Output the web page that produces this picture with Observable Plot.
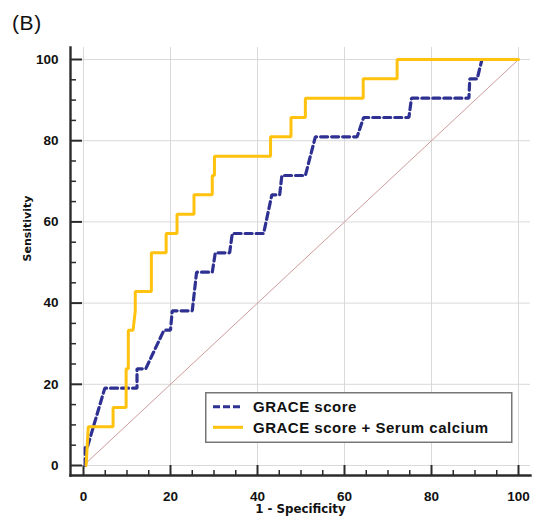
<!DOCTYPE html>
<html><head><meta charset="utf-8">
<script src="https://cdn.jsdelivr.net/npm/d3@7"></script>
<script src="https://cdn.jsdelivr.net/npm/@observablehq/plot@0.6"></script>
<style>
body{margin:0;background:#fff;}
#wrap{position:relative;width:533px;height:520px;background:#fff;}
#tag{height:40px;position:relative;font-family:"Liberation Sans",Arial,sans-serif;font-size:21px;color:#111;}
#tag span{position:absolute;left:12px;top:12px;line-height:21px;letter-spacing:0.6px;}
#legend{position:absolute;left:205px;top:392px;}
</style></head><body>
<div id="wrap"><div id="tag"><span>(B)</span></div><div id="chart"></div><div id="legend"></div></div>
<script>
// Series names and colours
const seriesNames = ["GRACE score", "GRACE score + Serum calcium"];
const seriesColors = ["#2e3192", "#ffc20e"];

// ROC points: GRACE score (1 - specificity, sensitivity)
const graceX = [0.4, 0.4, 0.95, 4.9, 12.3, 12.3, 14.3, 18.5, 20, 20.4, 25, 26, 29.6, 30.3, 33.6, 34.2, 41.4, 43.3, 45.1, 45.6, 51, 53.3, 62.9, 64.4, 74.8, 75.4, 88.6, 88.8, 90.5, 91.6, 100];
const graceY = [0, 4.76, 4.76, 19.05, 19.05, 23.81, 23.81, 33.33, 33.33, 38.1, 38.1, 47.62, 47.62, 52.38, 52.38, 57.14, 57.14, 66.67, 66.67, 71.43, 71.43, 80.95, 80.95, 85.71, 85.71, 90.48, 90.48, 95.24, 95.24, 100, 100];

// ROC points: GRACE score + Serum calcium
const calciumX = [0.6, 1.1, 6.8, 6.8, 9.8, 9.8, 10.3, 10.3, 11.4, 11.9, 11.9, 15.6, 15.6, 19.0, 19.0, 21.5, 21.5, 25.4, 25.4, 29.6, 29.6, 30.1, 30.1, 43.0, 43.0, 47.7, 47.7, 51.0, 51.0, 64.3, 64.3, 72.1, 72.1, 100];
const calciumY = [0, 9.52, 9.52, 14.29, 14.29, 23.81, 23.81, 33.33, 33.33, 38.1, 42.86, 42.86, 52.38, 52.38, 57.14, 57.14, 61.9, 61.9, 66.67, 66.67, 71.43, 71.43, 76.19, 76.19, 80.95, 80.95, 85.71, 85.71, 90.48, 90.48, 95.24, 95.24, 100, 100];

// Reference diagonal
const diagonal = [0, 100];

// Ticks
const majorTicks = [0, 20, 40, 60, 80, 100];
const minorTicks = [5, 10, 15, 25, 30, 35, 45, 50, 55, 65, 70, 75, 85, 90, 95];

const xTitle = "1 - Specificity";
const yTitle = "Sensitivity";

const grace = graceX.map((x, i) => ({x, y: graceY[i]}));
const calcium = calciumX.map((x, i) => ({x, y: calciumY[i]}));

const W = 533, H = 480, mL = 70, mR = 3, mT = 7, mB = 45;
const frameH = H - mT - mB, frameW = W - mL - mR;
const axisColor = "#2b2b2b";

const chart = Plot.plot({
  width: W, height: H,
  marginLeft: mL, marginRight: mR, marginTop: mT, marginBottom: mB,
  style: {fontFamily: "'Liberation Sans', Arial, sans-serif", color: "#111", background: "white", overflow: "visible"},
  x: {domain: [0, 100], insetLeft: 13, insetRight: 12},
  y: {domain: [0, 100], insetTop: 12, insetBottom: 10},
  marks: [
    Plot.gridX(majorTicks, {stroke: "#d9d9d9", strokeOpacity: 1, strokeWidth: 1}),
    Plot.gridY(majorTicks, {stroke: "#d9d9d9", strokeOpacity: 1, strokeWidth: 1}),
    Plot.tickX(majorTicks, {x: d => d, insetTop: frameH - 10, stroke: axisColor, strokeWidth: 2}),
    Plot.tickX(minorTicks, {x: d => d, insetTop: frameH - 5, stroke: axisColor, strokeWidth: 1.5}),
    Plot.tickY(majorTicks, {y: d => d, insetRight: frameW - 12, stroke: axisColor, strokeWidth: 2}),
    Plot.tickY(minorTicks, {y: d => d, insetRight: frameW - 6, stroke: axisColor, strokeWidth: 1.5}),
    Plot.frame({anchor: "left", stroke: axisColor, strokeWidth: 2.4}),
    Plot.frame({anchor: "bottom", stroke: axisColor, strokeWidth: 2.4}),
    Plot.axisX({ticks: majorTicks, tickSize: 0, tickPadding: 16, fontSize: 13.5, fontWeight: "bold", label: null}),
    Plot.axisY({ticks: majorTicks, tickSize: 0, tickPadding: 12, fontSize: 13.5, fontWeight: "bold", label: null}),
    Plot.text([xTitle], {text: d => d, frameAnchor: "bottom", dy: 34, lineAnchor: "middle", fontFamily: "'DejaVu Sans', Verdana, sans-serif", fontWeight: "bold", fontSize: 11.8, fill: "#111"}),
    Plot.text([yTitle], {text: d => d, frameAnchor: "left", dx: -43, rotate: -90, lineAnchor: "middle", fontFamily: "'DejaVu Sans', Verdana, sans-serif", fontWeight: "bold", fontSize: 11, fill: "#111"}),
    Plot.line(diagonal, {x: d => d, y: d => d, stroke: "#cf9c9c", strokeWidth: 1}),
    Plot.line(grace, {x: "x", y: "y", stroke: seriesColors[0], strokeWidth: 3.2, strokeDasharray: "7,4", strokeLinejoin: "miter"}),
    Plot.line(calcium, {x: "x", y: "y", stroke: seriesColors[1], strokeWidth: 3, strokeLinejoin: "miter"})
  ]
});
document.getElementById("chart").appendChild(chart);

// Legend box
const lg = d3.select("#legend").append("svg").attr("width", 308).attr("height", 52);
lg.append("rect").attr("x", 0.75).attr("y", 0.75).attr("width", 306).attr("height", 49.5)
  .attr("fill", "white").attr("stroke", "#777").attr("stroke-width", 1.5);
seriesNames.forEach((name, i) => {
  const cy = 14.7 + i * 20.6;
  lg.append("line").attr("x1", 8).attr("x2", 38).attr("y1", cy).attr("y2", cy)
    .attr("stroke", seriesColors[i]).attr("stroke-width", 3)
    .attr("stroke-dasharray", i === 0 ? "7,3" : null);
  lg.append("text").attr("x", 48).attr("y", cy).attr("dy", "0.36em")
    .attr("font-family", "'Liberation Sans', Arial, sans-serif").attr("font-weight", "bold")
    .attr("font-size", 15).attr("letter-spacing", 0.5).attr("fill", "#111").text(name);
});
</script>
</body></html>
